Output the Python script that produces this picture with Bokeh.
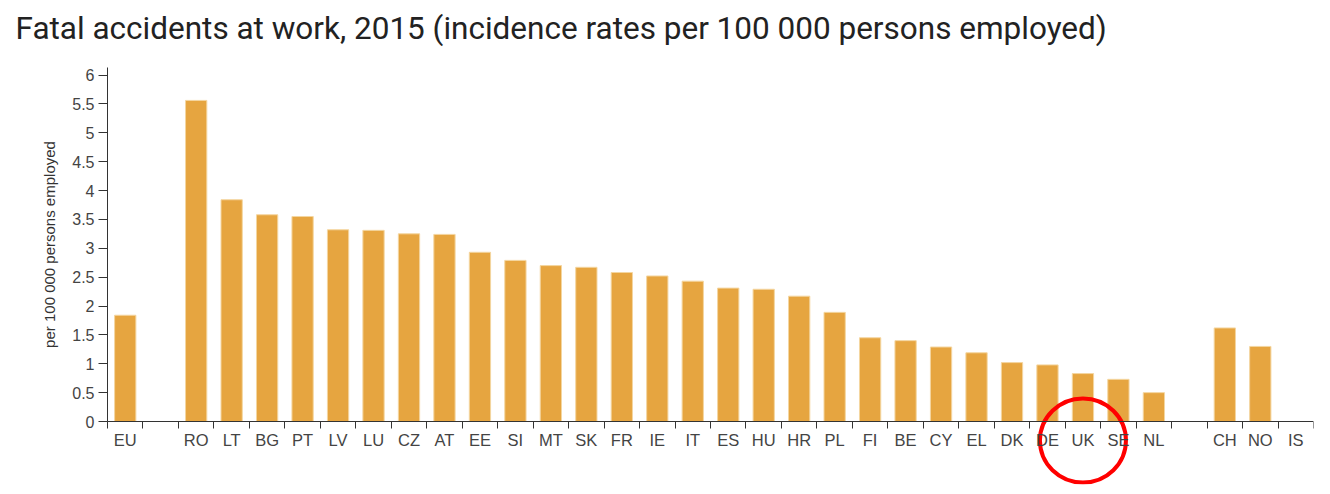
from bokeh.plotting import figure
from bokeh.models import Range1d, FixedTicker, NumeralTickFormatter, ColumnDataSource
from bokeh.core.properties import value
from bokeh.embed import file_html
from bokeh.resources import INLINE

# ---- data ----
title_text = "Fatal accidents at work, 2015 (incidence rates per 100 000 persons employed)"
y_label = "per 100 000 persons employed"

eu_categories = ["EU"]
eu_values = [1.84]

member_categories = ["RO", "LT", "BG", "PT", "LV", "LU", "CZ", "AT", "EE", "SI",
                     "MT", "SK", "FR", "IE", "IT", "ES", "HU", "HR", "PL", "FI",
                     "BE", "CY", "EL", "DK", "DE", "UK", "SE", "NL"]
member_values = [5.56, 3.84, 3.58, 3.55, 3.32, 3.31, 3.25, 3.24, 2.93, 2.79,
                 2.70, 2.67, 2.58, 2.52, 2.43, 2.31, 2.29, 2.17, 1.89, 1.45,
                 1.40, 1.29, 1.19, 1.02, 0.98, 0.83, 0.73, 0.50]

efta_categories = ["CH", "NO", "IS"]
efta_values = [1.62, 1.30, float("nan")]

y_ticks = [0, 0.5, 1, 1.5, 2, 2.5, 3, 3.5, 4, 4.5, 5, 5.5, 6]
y_top = 6.13
highlight = "UK"

# ---- build slot positions (one empty slot between groups) ----
groups = [(eu_categories, eu_values), (member_categories, member_values), (efta_categories, efta_values)]
cats, vals, pos = [], [], []
slot = 0
for gi, (gc, gv) in enumerate(groups):
    if gi > 0:
        slot += 1
    for c, v in zip(gc, gv):
        cats.append(c)
        vals.append(v)
        pos.append(slot)
        slot += 1
n_slots = slot

# ---- layout (pixels) ----
W, H = 1322, 486
axis_left_px, axis_right_px = 107, 1313
axis_top_px, axis_zero_px = 67, 421
frame_top_px, frame_bottom_px = 4, 484
slot_px = (axis_right_px - axis_left_px) / n_slots
unit_px = (axis_zero_px - axis_top_px) / y_top

x_start = -0.5 - axis_left_px / slot_px
x_end = n_slots - 0.5
y_end = y_top + (axis_top_px - frame_top_px) / unit_px
y_start = -(frame_bottom_px - axis_zero_px) / unit_px

src = ColumnDataSource(dict(x=pos, top=vals, cat=cats))

p = figure(width=W, height=H,
           x_range=Range1d(x_start, x_end), y_range=Range1d(y_start, y_end),
           output_backend="svg", toolbar_location=None,
           min_border_left=0, min_border_right=W - axis_right_px,
           min_border_top=frame_top_px, min_border_bottom=H - frame_bottom_px)

p.vbar(x="x", top="top", bottom=0, width=0.6, source=src,
       fill_color="#E6A540", line_color="#F4D6A0", line_width=1)

# highlight circle around UK label
ux = pos[cats.index(highlight)]
p.ellipse(x=[ux], y=[-19 / unit_px], width=86, height=84, width_units="screen", height_units="screen",
          fill_color=None, line_color="#FF0000", line_width=4)

# chart title (drawn as text so it can sit at the page's left)
p.text(x=[-0.5], y=[y_top + 39 / unit_px], text=[title_text], x_offset=-92,
       text_font=value("Roboto"), text_font_size="31.5px", text_color="#222222",
       text_align="left", text_baseline="alphabetic")

p.outline_line_color = None
p.xgrid.visible = False
p.ygrid.visible = False

# x axis: labels at centres, ticks at boundaries
xa = p.xaxis[0]
xa.fixed_location = 0
xa.bounds = (-0.5, n_slots - 0.5)
boundaries = [b - 0.5 for b in range(n_slots + 1)]
xa.ticker = FixedTicker(ticks=pos, minor_ticks=boundaries)
xa.major_label_overrides = {int(x): c for x, c in zip(pos, cats)}
xa.major_tick_out = 0
xa.major_tick_in = 0
xa.minor_tick_out = 7
xa.minor_tick_in = 0
xa.minor_tick_line_color = "#333333"
xa.axis_line_color = "#333333"
xa.major_label_text_font = "Liberation Sans"
xa.major_label_text_font_size = "16.5px"
xa.major_label_text_color = "#444444"
xa.major_label_standoff = 2

ya = p.yaxis[0]
ya.fixed_location = -0.5
ya.bounds = (0, y_top)
ya.ticker = FixedTicker(ticks=y_ticks)
ya.formatter = NumeralTickFormatter(format="0.[0]")
ya.minor_tick_line_color = None
ya.major_tick_out = 9
ya.major_tick_in = 0
ya.major_tick_line_color = "#333333"
ya.axis_line_color = "#333333"
ya.major_label_text_font = "Liberation Sans"
ya.major_label_text_font_size = "16px"
ya.major_label_text_color = "#444444"
ya.major_label_standoff = 4
ya.axis_label = y_label
ya.axis_label_text_font = "Liberation Sans"
ya.axis_label_text_font_size = "15px"
ya.axis_label_text_font_style = "normal"
ya.axis_label_text_color = "#333333"
ya.axis_label_standoff = 11

open("out.html", "w").write(file_html(p, INLINE))
